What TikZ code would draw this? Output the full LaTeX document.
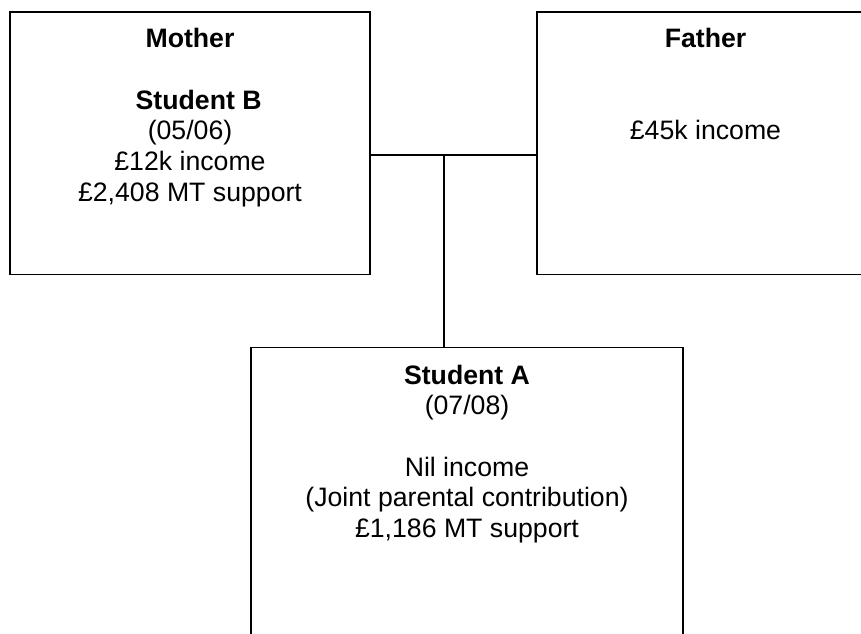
\documentclass[tikz,border=0pt]{standalone}
\usepackage{fontspec}
\setmainfont{Liberation Sans}
\usepackage{tikz}
\usetikzlibrary{positioning}
\tikzstyle{box} = [rectangle, draw, line width = 1.3pt, inner sep = 0pt]
\tikzstyle{txt} = [align = center, inner sep = 0pt, font = \fontsize{20}{23}\selectfont]
\tikzstyle{line} = [draw, line width = 1.3pt]

\begin{document}
\begin{tikzpicture}[x = 0.75pt, y = -0.75pt]
				\useasboundingbox (0,0) rectangle (861,634);
				\clip (0,0) rectangle (861,634);

				\node [box, minimum width = 270pt, minimum height = 197pt] (mother) at (190,143.1) {};
				\node [box, minimum width = 252.75pt, minimum height = 197pt] (father) at (705.5,143.1) {};
				\node [box, minimum width = 324pt, minimum height = 264pt] (studentA) at (467,523.5) {};

				\node [txt, below = 13pt of mother.north] (mothertext) {\textbf{Mother}\\ \\ \hspace*{13pt}\textbf{Student B}\\ (05/06)\\ £12k income\\ £2,408 MT support};
				\node [txt, below = 13pt of father.north] (fathertext) {\textbf{Father}\\ \\ \\ £45k income};
				\node [txt, below = 13.5pt of studentA.north] (studentAtext) {\textbf{Student A}\\ (07/08)\\ \\ Nil income\\ (Joint parental contribution)\\ £1,186 MT support};

				\coordinate (join) at (444,155);
				\path [line] (mother.east |- join) -- (father.west |- join);
				\path [line] (join) -- (join |- studentA.north);
			\end{tikzpicture}
\end{document}
